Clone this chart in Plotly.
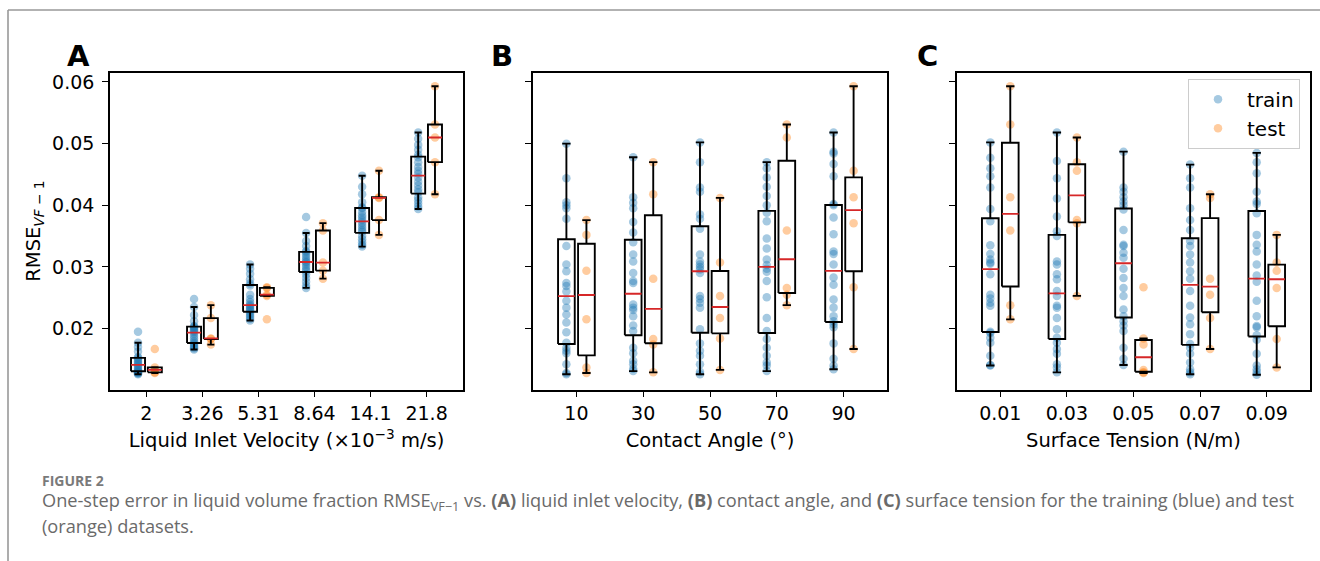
import numpy as np
import plotly.graph_objects as go

# ---------------- data ----------------
velocity_labels = ["2", "3.26", "5.31", "8.64", "14.1", "21.8"]
angle_labels = ["10", "30", "50", "70", "90"]
tension_labels = ["0.01", "0.03", "0.05", "0.07", "0.09"]

train_by_velocity = [
    [0.0126, 0.0127, 0.0128, 0.0129, 0.0130, 0.0131, 0.0133, 0.0135, 0.0138, 0.0140,
     0.0142, 0.0144, 0.0147, 0.0150, 0.0152, 0.0154, 0.0163, 0.0170, 0.0177, 0.0195],
    [0.0166, 0.0168, 0.0170, 0.0172, 0.0175, 0.0177, 0.0180, 0.0184, 0.0188, 0.0192,
     0.0195, 0.0197, 0.0199, 0.0201, 0.0203, 0.0204, 0.0212, 0.0222, 0.0235, 0.0248],
    [0.0213, 0.0216, 0.0219, 0.0222, 0.0225, 0.0228, 0.0230, 0.0232, 0.0235, 0.0237,
     0.0239, 0.0243, 0.0248, 0.0255, 0.0270, 0.0273, 0.0280, 0.0289, 0.0297, 0.0304],
    [0.0266, 0.0270, 0.0276, 0.0282, 0.0288, 0.0293, 0.0296, 0.0300, 0.0304, 0.0307,
     0.0309, 0.0312, 0.0316, 0.0320, 0.0324, 0.0326, 0.0334, 0.0342, 0.0355, 0.0381],
    [0.0333, 0.0336, 0.0340, 0.0345, 0.0350, 0.0357, 0.0360, 0.0364, 0.0368, 0.0372,
     0.0376, 0.0380, 0.0384, 0.0389, 0.0395, 0.0397, 0.0405, 0.0418, 0.0430, 0.0448],
    [0.0394, 0.0398, 0.0403, 0.0408, 0.0413, 0.0421, 0.0426, 0.0432, 0.0438, 0.0445,
     0.0451, 0.0456, 0.0462, 0.0470, 0.0478, 0.0482, 0.0490, 0.0498, 0.0508, 0.0518],
]

train_by_angle = [
    [0.0126, 0.0128, 0.0142, 0.0160, 0.0164, 0.0169, 0.0177, 0.0194, 0.0210, 0.0223, 0.0234, 0.0245,
     0.0260, 0.0269, 0.0274, 0.0293, 0.0304, 0.0334, 0.0378, 0.0395, 0.0400, 0.0405, 0.0444, 0.0500],
    [0.0131, 0.0135, 0.0142, 0.0148, 0.0160, 0.0169, 0.0196, 0.0205, 0.0220, 0.0230, 0.0234, 0.0239,
     0.0274, 0.0277, 0.0290, 0.0309, 0.0320, 0.0340, 0.0356, 0.0373, 0.0395, 0.0404, 0.0413, 0.0478],
    [0.0126, 0.0130, 0.0142, 0.0156, 0.0164, 0.0176, 0.0199, 0.0234, 0.0242, 0.0248, 0.0253, 0.0290,
     0.0296, 0.0300, 0.0304, 0.0309, 0.0320, 0.0362, 0.0378, 0.0385, 0.0422, 0.0429, 0.0470, 0.0502],
    [0.0131, 0.0140, 0.0145, 0.0156, 0.0169, 0.0183, 0.0196, 0.0217, 0.0251, 0.0277, 0.0292, 0.0297,
     0.0303, 0.0312, 0.0330, 0.0346, 0.0374, 0.0388, 0.0400, 0.0415, 0.0430, 0.0445, 0.0460, 0.0470],
    [0.0134, 0.0140, 0.0151, 0.0176, 0.0202, 0.0207, 0.0212, 0.0220, 0.0234, 0.0247, 0.0271, 0.0283,
     0.0304, 0.0321, 0.0325, 0.0353, 0.0380, 0.0400, 0.0402, 0.0447, 0.0467, 0.0484, 0.0487, 0.0518],
]

train_by_tension = [
    [0.0140, 0.0141, 0.0156, 0.0177, 0.0185, 0.0193, 0.0195, 0.0237, 0.0242, 0.0249, 0.0255, 0.0288,
     0.0305, 0.0307, 0.0312, 0.0321, 0.0335, 0.0374, 0.0394, 0.0429, 0.0447, 0.0460, 0.0477, 0.0502],
    [0.0129, 0.0137, 0.0142, 0.0159, 0.0167, 0.0177, 0.0185, 0.0199, 0.0217, 0.0234, 0.0237, 0.0253,
     0.0261, 0.0280, 0.0288, 0.0304, 0.0309, 0.0350, 0.0358, 0.0382, 0.0411, 0.0444, 0.0472, 0.0518],
    [0.0141, 0.0151, 0.0169, 0.0196, 0.0205, 0.0212, 0.0220, 0.0231, 0.0253, 0.0266, 0.0282, 0.0297,
     0.0315, 0.0323, 0.0334, 0.0336, 0.0360, 0.0393, 0.0400, 0.0406, 0.0413, 0.0422, 0.0429, 0.0487],
    [0.0126, 0.0129, 0.0134, 0.0145, 0.0159, 0.0169, 0.0175, 0.0191, 0.0207, 0.0218, 0.0237, 0.0261,
     0.0281, 0.0293, 0.0307, 0.0320, 0.0334, 0.0342, 0.0360, 0.0376, 0.0395, 0.0429, 0.0444, 0.0466],
    [0.0125, 0.0129, 0.0134, 0.0140, 0.0159, 0.0182, 0.0189, 0.0202, 0.0204, 0.0220, 0.0245, 0.0276,
     0.0286, 0.0304, 0.0325, 0.0336, 0.0352, 0.0387, 0.0402, 0.0406, 0.0422, 0.0452, 0.0470, 0.0485],
]

# test cases: one entry per case
test_value = [0.0128, 0.0129, 0.0133, 0.0137, 0.0167,
              0.0174, 0.0183, 0.0184, 0.0217, 0.0238,
              0.0215, 0.0253, 0.0255, 0.0266, 0.0267,
              0.0281, 0.0294, 0.0307, 0.0359, 0.0371,
              0.0352, 0.0376, 0.0412, 0.0413, 0.0456,
              0.0418, 0.0470, 0.0510, 0.0531, 0.0593]
test_velocity = ["2"] * 5 + ["3.26"] * 5 + ["5.31"] * 5 + ["8.64"] * 5 + ["14.1"] * 5 + ["21.8"] * 5
test_angle = ["10", "30", "50", "10", "90",
              "30", "30", "50", "50", "70",
              "10", "50", "70", "70", "90",
              "30", "10", "50", "70", "90",
              "10", "10", "50", "90", "90",
              "30", "30", "70", "70", "90"]
test_tension = ["0.05", "0.05", "0.05", "0.09", "0.07",
                "0.05", "0.09", "0.05", "0.07", "0.01",
                "0.01", "0.03", "0.07", "0.09", "0.05",
                "0.07", "0.09", "0.09", "0.01", "0.03",
                "0.09", "0.03", "0.07", "0.01", "0.03",
                "0.07", "0.03", "0.03", "0.01", "0.01"]

y_ticks = [0.02, 0.03, 0.04, 0.05, 0.06]

# ---------------- layout constants ----------------
W, H = 1320, 561
FONT = "DejaVu Sans"
TICK_SIZE = 19
TITLE_SIZE = 19.5
TRAIN_COLOR = "rgba(31,119,180,0.4)"
TEST_COLOR = "rgba(255,127,14,0.4)"
OFFSET = 0.15
BOX_W = 0.25

def px_x(p):
    return p / W

def px_y(p):
    return 1 - p / H

panels = [
    dict(labels=velocity_labels, train=train_by_velocity, test_key=test_velocity,
         title="Liquid Inlet Velocity (×10<sup>−3</sup> m/s)", dom=(110, 463), letter="A", lx=78),
    dict(labels=angle_labels, train=train_by_angle, test_key=test_angle,
         title="Contact Angle (°)", dom=(533, 887), letter="B", lx=502),
    dict(labels=tension_labels, train=train_by_tension, test_key=test_tension,
         title="Surface Tension (N/m)", dom=(957, 1310), letter="C", lx=927),
]

def box_stats(vals):
    a = np.sort(np.asarray(vals, dtype=float))
    q1, med, q3 = np.percentile(a, [25, 50, 75])
    iqr = q3 - q1
    lo = a[a >= q1 - 1.5 * iqr].min()
    hi = a[a <= q3 + 1.5 * iqr].max()
    return q1, med, q3, lo, hi

fig = go.Figure()
layout_axes = {}

for k, pn in enumerate(panels):
    sfx = "" if k == 0 else str(k + 1)
    xref, yref = "x" + sfx, "y" + sfx
    labels = pn["labels"]
    test_groups = [[v for v, c in zip(test_value, pn["test_key"]) if c == lab] for lab in labels]

    for name, groups, off, color in (("train", pn["train"], -OFFSET, TRAIN_COLOR),
                                      ("test", test_groups, OFFSET, TEST_COLOR)):
        xs, ys = [], []
        for i, g in enumerate(groups):
            xs += [i + off] * len(g)
            ys += list(g)
        fig.add_trace(go.Scatter(
            x=xs, y=ys, mode="markers", name=name, xaxis=xref, yaxis=yref,
            marker=dict(size=8.5, color=color, line=dict(width=0)),
            showlegend=(k == 2), legendgroup=name, hoverinfo="skip"))

    for groups, off in ((pn["train"], -OFFSET), (test_groups, OFFSET)):
        bx, by, mx, my = [], [], [], []
        for i, g in enumerate(groups):
            q1, med, q3, lo, hi = box_stats(g)
            c = i + off
            l, r = c - BOX_W / 2, c + BOX_W / 2
            cl, cr = c - BOX_W / 4, c + BOX_W / 4
            bx += [l, r, r, l, l, None, c, c, None, c, c, None, cl, cr, None, cl, cr, None]
            by += [q1, q1, q3, q3, q1, None, q3, hi, None, q1, lo, None, hi, hi, None, lo, lo, None]
            mx += [l, r, None]
            my += [med, med, None]
        fig.add_trace(go.Scatter(x=bx, y=by, mode="lines", xaxis=xref, yaxis=yref,
                                 line=dict(color="black", width=1.9), showlegend=False,
                                 hoverinfo="skip"))
        fig.add_trace(go.Scatter(x=mx, y=my, mode="lines", xaxis=xref, yaxis=yref,
                                 line=dict(color="#d62728", width=1.8), showlegend=False,
                                 hoverinfo="skip"))

    axis_common = dict(showline=True, linecolor="black", linewidth=1.6, mirror=True,
                       ticks="outside", ticklen=6, tickwidth=1.4, tickcolor="black",
                       showgrid=False, zeroline=False,
                       tickfont=dict(family=FONT, size=TICK_SIZE, color="black"))
    layout_axes["xaxis" + sfx] = dict(
        axis_common, domain=[px_x(pn["dom"][0]), px_x(pn["dom"][1])],
        range=[-0.65, len(labels) - 0.35], anchor=yref,
        tickmode="array", tickvals=list(range(len(labels))), ticktext=labels,
        title=dict(text=pn["title"], font=dict(family=FONT, size=TITLE_SIZE, color="black"),
                   standoff=10))
    ydict = dict(axis_common, domain=[px_y(389), px_y(71)], range=[0.0101, 0.0615],
                 anchor=xref, tickmode="array", tickvals=y_ticks,
                 ticktext=["%.2f" % v for v in y_ticks], showticklabels=(k == 0),
                 ticklabelstandoff=4)
    if k == 0:
        ydict["title"] = dict(text="RMSE<sub><i>VF</i> − 1</sub>",
                              font=dict(family=FONT, size=TITLE_SIZE, color="black"), standoff=6)
    layout_axes["yaxis" + sfx] = ydict

annotations = []
for pn in panels:
    annotations.append(dict(text="<b>%s</b>" % pn["letter"], x=px_x(pn["lx"]), y=px_y(54),
                            xref="paper", yref="paper", xanchor="center", yanchor="middle",
                            showarrow=False, font=dict(family=FONT, size=29, color="black")))

CAP_FONT = "Open Sans"
CAP_COLOR = "#6a6a6a"
annotations.append(dict(text="<b>FIGURE 2</b>", x=px_x(40), y=px_y(480), xref="paper", yref="paper",
                        xanchor="left", yanchor="middle", showarrow=False,
                        font=dict(family=CAP_FONT, size=14, color="#7a7a7a")))
annotations.append(dict(
    text="One-step error in liquid volume fraction RMSE<sub>VF−1</sub> vs. <b>(A)</b> liquid inlet velocity, "
         "<b>(B)</b> contact angle, and <b>(C)</b> surface tension for the training (blue) and test",
    x=px_x(40), y=px_y(501), xref="paper", yref="paper", xanchor="left", yanchor="middle",
    showarrow=False, font=dict(family=CAP_FONT, size=18.2, color=CAP_COLOR)))
annotations.append(dict(text="(orange) datasets.", x=px_x(40), y=px_y(526), xref="paper", yref="paper",
                        xanchor="left", yanchor="middle", showarrow=False,
                        font=dict(family=CAP_FONT, size=18.2, color=CAP_COLOR)))

shapes = [
    dict(type="line", xref="paper", yref="paper", x0=px_x(8), x1=1.0, y0=px_y(8), y1=px_y(8),
         line=dict(color="#999999", width=1.6)),
    dict(type="line", xref="paper", yref="paper", x0=px_x(8), x1=px_x(8), y0=px_y(8), y1=0,
         line=dict(color="#999999", width=1.6)),
]

fig.update_layout(
    width=W, height=H, autosize=False,
    margin=dict(l=0, r=0, t=0, b=0),
    paper_bgcolor="white", plot_bgcolor="white",
    font=dict(family=FONT, size=TICK_SIZE, color="black"),
    annotations=annotations, shapes=shapes,
    legend=dict(x=px_x(1300), y=px_y(77), xanchor="right", yanchor="top",
                bgcolor="rgba(255,255,255,0.8)", bordercolor="#cccccc", borderwidth=1,
                font=dict(family=FONT, size=20, color="black"), itemwidth=48,
                tracegroupgap=0, traceorder="grouped"),
    **layout_axes,
)

fig.write_html("out.html")
